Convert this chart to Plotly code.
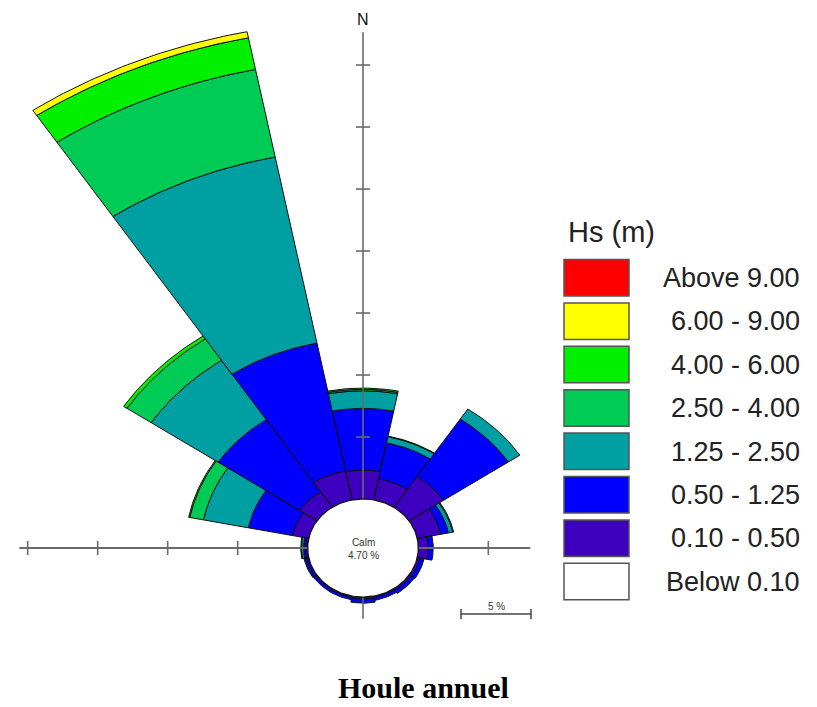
import numpy as np
import plotly.graph_objects as go

# ---------------- data (percent of time) ----------------
directions = ["N", "NNE", "NE", "ENE", "E", "ESE", "SE", "SSE",
              "S", "SSW", "SW", "WSW", "W", "WNW", "NW", "NNW"]
dir_angles = [0, 22.5, 45, 67.5, 90, 112.5, 135, 157.5,
              180, 202.5, 225, 247.5, 270, 292.5, 315, 337.5]

class_labels = ["Above 9.00", "6.00 - 9.00", "4.00 - 6.00", "2.50 - 4.00",
                "1.25 - 2.50", "0.50 - 1.25", "0.10 - 0.50", "Below 0.10"]
class_colors = ["#FF0000", "#FFFF00", "#00F000", "#00CC55",
                "#00A0A2", "#0000FF", "#3C00BE", "#FFFFFF"]

freq_010_050 = [2.34, 1.75, 2.98, 1.73, 0.72, 0.20, 0.15, 0.10,
                0.15, 0.10, 0.10, 0.10, 0.15, 1.18, 1.50, 2.40]
freq_050_125 = [4.97, 2.94, 5.57, 0.55, 0.35, 0.30, 0.30, 0.25,
                0.35, 0.20, 0.20, 0.20, 0.15, 3.22, 7.00, 10.50]
freq_125_250 = [1.42, 0.50, 0.98, 0.30, 0.00, 0.00, 0.00, 0.00,
                0.00, 0.00, 0.00, 0.05, 0.15, 3.27, 5.75, 15.30]
freq_250_400 = [0.12, 0.05, 0.00, 0.07, 0.00, 0.00, 0.00, 0.00,
                0.00, 0.00, 0.00, 0.00, 0.05, 1.00, 2.08, 7.20]
freq_400_600 = [0.10, 0.00, 0.00, 0.00, 0.00, 0.00, 0.00, 0.00,
                0.00, 0.00, 0.00, 0.00, 0.00, 0.08, 0.28, 2.60]
freq_600_900 = [0.00, 0.00, 0.00, 0.00, 0.00, 0.00, 0.00, 0.00,
                0.00, 0.00, 0.00, 0.00, 0.00, 0.00, 0.00, 0.50]
freq_above_900 = [0.0] * 16
calm_pct = 4.70

stack = [  # inner -> outer
    (class_labels[6], class_colors[6], freq_010_050),
    (class_labels[5], class_colors[5], freq_050_125),
    (class_labels[4], class_colors[4], freq_125_250),
    (class_labels[3], class_colors[3], freq_250_400),
    (class_labels[2], class_colors[2], freq_400_600),
    (class_labels[1], class_colors[1], freq_600_900),
    (class_labels[0], class_colors[0], freq_above_900),
]

# ---------------- geometry / style ----------------
W, H = 817, 707
CX, CY = 363, 548              # centre in pixels
PX_X, PX_Y = 14.0, 12.4        # pixels per percent (horizontal / vertical)
R0 = 3.95                      # calm circle radius in percent units
HALF = 11.25                   # half sector width (deg)

xr = [-CX / PX_X, (W - CX) / PX_X]
yr = [-(H - CY) / PX_Y, CY / PX_Y]


def px2paper(px, py):
    return px / W, 1 - py / H


def sector(r1, r2, a_c):
    a = np.radians(np.linspace(a_c - HALF, a_c + HALF, 40))
    xs = list(r2 * np.sin(a)) + list(r1 * np.sin(a[::-1]))
    ys = list(r2 * np.cos(a)) + list(r1 * np.cos(a[::-1]))
    xs.append(xs[0]); ys.append(ys[0])
    return xs, ys


fig = go.Figure()

cum = [0.0] * 16
for label, color, vals in stack:
    X, Y = [], []
    for i, v in enumerate(vals):
        if v <= 0:
            continue
        xs, ys = sector(R0 + cum[i], R0 + cum[i] + v, dir_angles[i])
        X += xs + [None]; Y += ys + [None]
        cum[i] += v
    if X:
        fig.add_trace(go.Scatter(x=X, y=Y, mode="lines", fill="toself",
                                 fillcolor=color, line=dict(color="#111111", width=1),
                                 hoverinfo="skip", showlegend=False, name=label))

# axes (drawn over the bars)
axc = "#6a6a6a"
x_left, x_right = -(R0 + 20.6), R0 + 8.0
y_top, y_bot = R0 + 37.65, -(R0 + 1.75)
fig.add_trace(go.Scatter(x=[x_left, x_right], y=[0, 0], mode="lines",
                         line=dict(color=axc, width=2), hoverinfo="skip", showlegend=False))
fig.add_trace(go.Scatter(x=[0, 0], y=[y_bot, y_top], mode="lines",
                         line=dict(color=axc, width=1.6), hoverinfo="skip", showlegend=False))
tx, ty = [], []
tick_h = 7 / PX_Y
tick_w = 7 / PX_X
for k in range(1, 5):
    xv = -(R0 + 5 * k)
    tx += [xv, xv, None]; ty += [-tick_h, tick_h, None]
xv = R0 + 5
tx += [xv, xv, None]; ty += [-tick_h, tick_h, None]
for k in range(1, 8):
    yv = R0 + 5 * k
    tx += [-tick_w, tick_w, None]; ty += [yv, yv, None]
fig.add_trace(go.Scatter(x=tx, y=ty, mode="lines", line=dict(color=axc, width=1.6),
                         hoverinfo="skip", showlegend=False))

# calm circle
a = np.radians(np.linspace(0, 360, 181))
fig.add_trace(go.Scatter(x=R0 * np.sin(a), y=R0 * np.cos(a), mode="lines", fill="toself",
                         fillcolor="#FFFFFF", line=dict(color="#111111", width=1.2),
                         hoverinfo="skip", showlegend=False))

annotations = [
    dict(x=0, y=0, xref="x", yref="y", text=f"Calm<br>{calm_pct:.2f} %", showarrow=False,
         font=dict(family="Arial", size=10, color="#333333"), yshift=-1),
    dict(x=0, y=y_top, xref="x", yref="y", text="N", showarrow=False, yanchor="bottom",
         font=dict(family="Arial", size=16, color="#111111"), yshift=2),
]

shapes = []
# scale bar (5 %)
sb_x0 = (461 - CX) / PX_X
sb_y = -(614 - CY) / PX_Y
shapes.append(dict(type="line", xref="x", yref="y", x0=sb_x0, x1=sb_x0 + 5, y0=sb_y, y1=sb_y,
                   line=dict(color="#444444", width=1.5)))
for xe in (sb_x0, sb_x0 + 5):
    shapes.append(dict(type="line", xref="x", yref="y", x0=xe, x1=xe,
                       y0=sb_y - 5 / PX_Y, y1=sb_y + 5 / PX_Y, line=dict(color="#444444", width=1.5)))
annotations.append(dict(x=sb_x0 + 2.5, y=sb_y, xref="x", yref="y", text="5 %", showarrow=False,
                        yanchor="bottom", font=dict(family="Arial", size=10, color="#333333"), yshift=0))

# legend
lx, ly = px2paper(566, 232)
annotations.append(dict(x=lx, y=ly, xref="paper", yref="paper", text="Hs (m)",
                        showarrow=False, xanchor="left", yanchor="middle",
                        font=dict(family="Arial", size=29, color="#222222")))
for j, (lab, col) in enumerate(zip(class_labels, class_colors)):
    top = 259.5 + j * 43.4
    x0, y0 = px2paper(564, top)
    x1, y1 = px2paper(629, top + 36.5)
    shapes.append(dict(type="rect", xref="paper", yref="paper", x0=x0, x1=x1, y0=y1, y1=y0,
                       fillcolor=col, line=dict(color="#555555", width=1.5)))
    tx_, ty_ = px2paper(802, top + 18.5)
    annotations.append(dict(x=tx_, y=ty_, xref="paper", yref="paper",
                            text=lab, showarrow=False, xanchor="right", yanchor="middle",
                            font=dict(family="Arial", size=27, color="#222222")))

# title
tx_, ty_ = px2paper(423, 687)
annotations.append(dict(x=tx_, y=ty_, xref="paper", yref="paper",
                        text="<b>Houle annuel</b>", showarrow=False, xanchor="center", yanchor="middle",
                        font=dict(family="Times New Roman, Liberation Serif, serif", size=30, color="#000000")))

fig.update_layout(
    width=W, height=H, margin=dict(l=0, r=0, t=0, b=0),
    paper_bgcolor="white", plot_bgcolor="white",
    xaxis=dict(range=xr, visible=False, fixedrange=True),
    yaxis=dict(range=yr, visible=False, fixedrange=True),
    shapes=shapes, annotations=annotations, showlegend=False,
)

fig.write_html("out.html", config={"displayModeBar": False, "staticPlot": True},
               post_script="document.body.style.margin='0px';document.body.style.overflow='hidden';")
